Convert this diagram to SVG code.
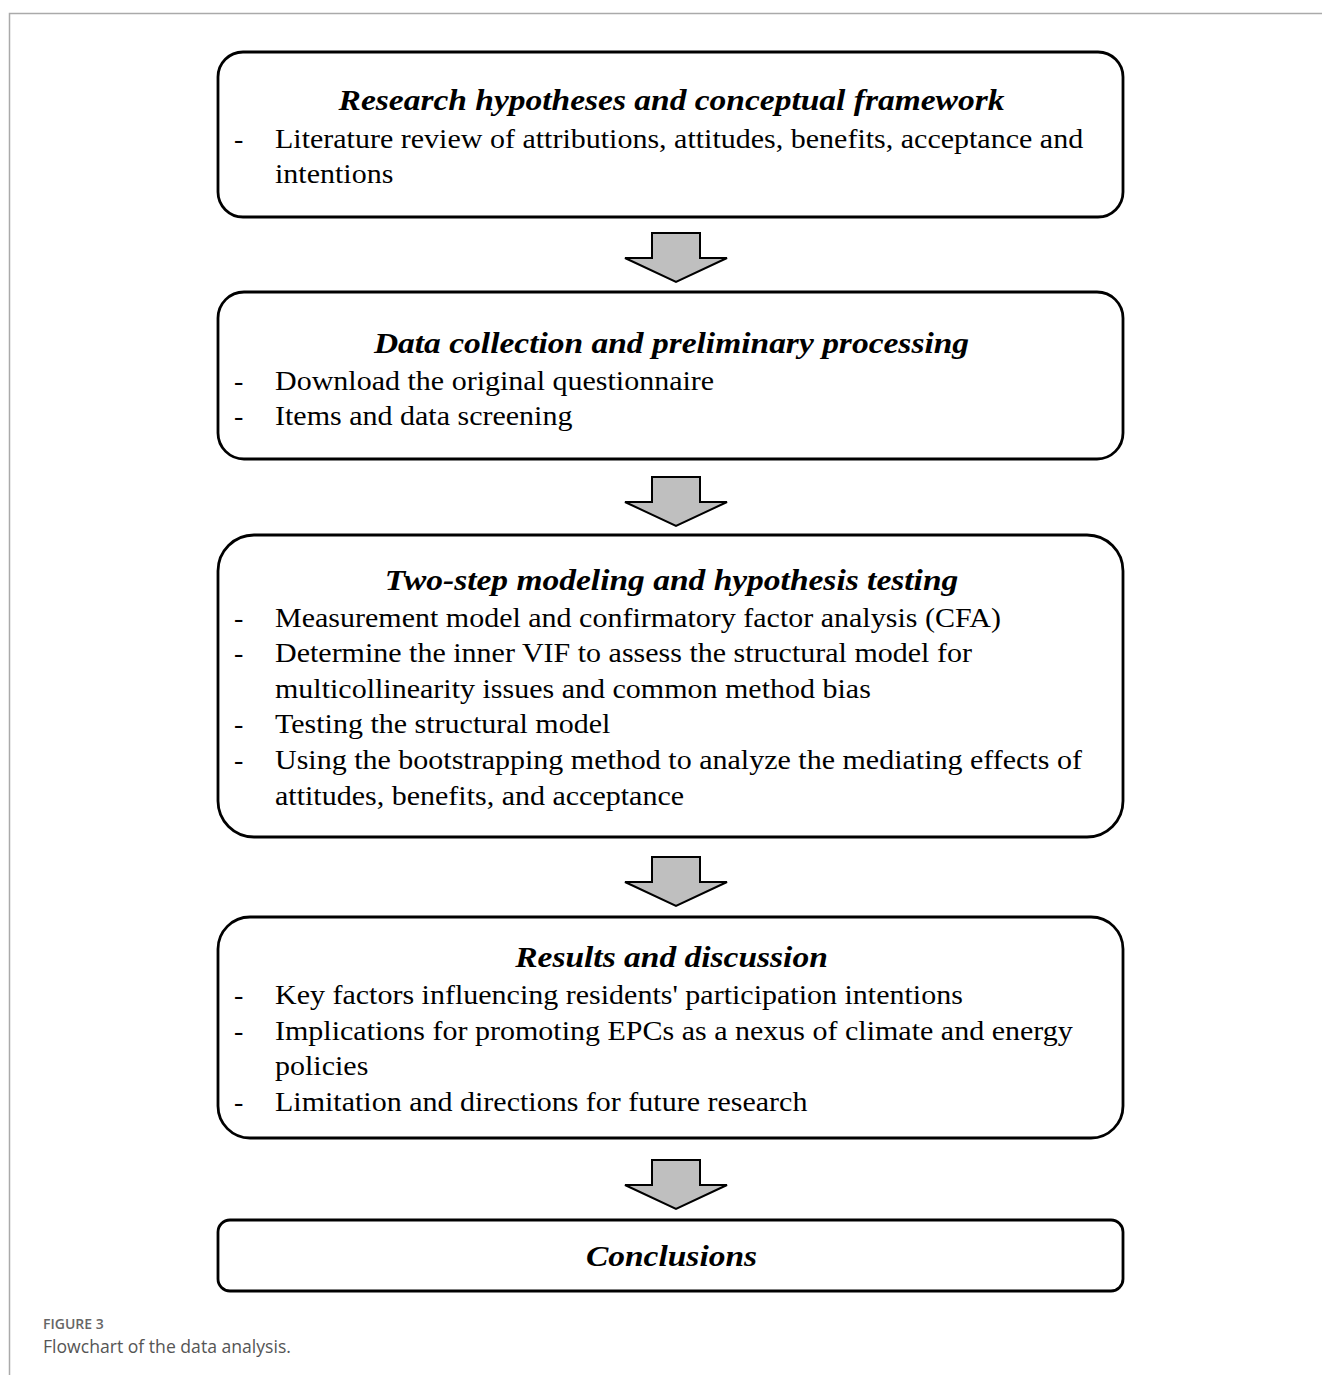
<svg xmlns="http://www.w3.org/2000/svg" width="1322" height="1375" viewBox="0 0 1322 1375">
<defs>
<style>
.box{fill:#fff;stroke:#000;stroke-width:2.8}
.arrow{fill:#bfbfbf;stroke:#000;stroke-width:2;stroke-linejoin:miter}
.title{font-family:"Liberation Serif","Times New Roman",serif;font-weight:bold;font-style:italic;font-size:29px;fill:#000;text-anchor:middle}
.body{font-family:"Liberation Serif","Times New Roman",serif;font-size:28px;fill:#000}
.cap1{font-family:"Open Sans","Noto Sans",sans-serif;font-size:14px;font-weight:600;fill:#666}
.cap2{font-family:"Open Sans","Noto Sans",sans-serif;font-size:17.6px;fill:#555}
.frame{stroke:#aaa;stroke-width:1.5;fill:none}
</style>
</defs>
<rect width="1322" height="1375" fill="#fff"/>
<path class="frame" d="M9.5 1375 V13.5 H1322"/>

<g id="connectors">
<path class="arrow" d="M652 233 H700 V258 H727 L676 282 L625 258 H652 Z"/>
<path class="arrow" d="M652 477 H700 V502 H727 L676 526 L625 502 H652 Z"/>
<path class="arrow" d="M652 857 H700 V882 H727 L676 906 L625 882 H652 Z"/>
<path class="arrow" d="M652 1160 H700 V1185 H727 L676 1209 L625 1185 H652 Z"/>
</g>

<g id="node1">
<rect class="box" x="218" y="52" width="905" height="165" rx="25" ry="25"/>
<text class="title" x="671.5" y="110" transform="matrix(1.155 0 0 1 -104.08 0)">Research hypotheses and conceptual framework</text>
<text class="body" x="234" y="148">-</text>
<g transform="matrix(1.072 0 0 1 -19.8 0)">
<text class="body" x="275" y="148">Literature review of attributions, attitudes, benefits, acceptance and</text>
<text class="body" x="275" y="183">intentions</text>
</g>
</g>

<g id="node2">
<rect class="box" x="218" y="292" width="905" height="167" rx="26" ry="26"/>
<text class="title" x="671.5" y="353" transform="matrix(1.155 0 0 1 -104.08 0)">Data collection and preliminary processing</text>
<text class="body" x="234" y="390">-</text>
<text class="body" x="234" y="425">-</text>
<g transform="matrix(1.072 0 0 1 -19.8 0)">
<text class="body" x="275" y="390">Download the original questionnaire</text>
<text class="body" x="275" y="425">Items and data screening</text>
</g>
</g>

<g id="node3">
<rect class="box" x="218" y="535" width="905" height="302" rx="36" ry="36"/>
<text class="title" x="671.5" y="590" transform="matrix(1.155 0 0 1 -104.08 0)">Two-step modeling and hypothesis testing</text>
<text class="body" x="234" y="627">-</text>
<text class="body" x="234" y="662">-</text>
<text class="body" x="234" y="733">-</text>
<text class="body" x="234" y="769">-</text>
<g transform="matrix(1.072 0 0 1 -19.8 0)">
<text class="body" x="275" y="627">Measurement model and confirmatory factor analysis (CFA)</text>
<text class="body" x="275" y="662">Determine the inner VIF to assess the structural model for</text>
<text class="body" x="275" y="698">multicollinearity issues and common method bias</text>
<text class="body" x="275" y="733">Testing the structural model</text>
<text class="body" x="275" y="769">Using the bootstrapping method to analyze the mediating effects of</text>
<text class="body" x="275" y="805">attitudes, benefits, and acceptance</text>
</g>
</g>

<g id="node4">
<rect class="box" x="218" y="917" width="905" height="221" rx="32" ry="32"/>
<text class="title" x="671.5" y="967" transform="matrix(1.155 0 0 1 -104.08 0)">Results and discussion</text>
<text class="body" x="234" y="1004">-</text>
<text class="body" x="234" y="1040">-</text>
<text class="body" x="234" y="1111">-</text>
<g transform="matrix(1.072 0 0 1 -19.8 0)">
<text class="body" x="275" y="1004">Key factors influencing residents' participation intentions</text>
<text class="body" x="275" y="1040">Implications for promoting EPCs as a nexus of climate and energy</text>
<text class="body" x="275" y="1075">policies</text>
<text class="body" x="275" y="1111">Limitation and directions for future research</text>
</g>
</g>

<g id="node5">
<rect class="box" x="218" y="1220" width="905" height="71" rx="12" ry="12"/>
<text class="title" x="671.5" y="1266" transform="matrix(1.155 0 0 1 -104.08 0)">Conclusions</text>
</g>

<text class="cap1" x="43" y="1329">FIGURE 3</text>
<text class="cap2" x="43" y="1353">Flowchart of the data analysis.</text>
</svg>
